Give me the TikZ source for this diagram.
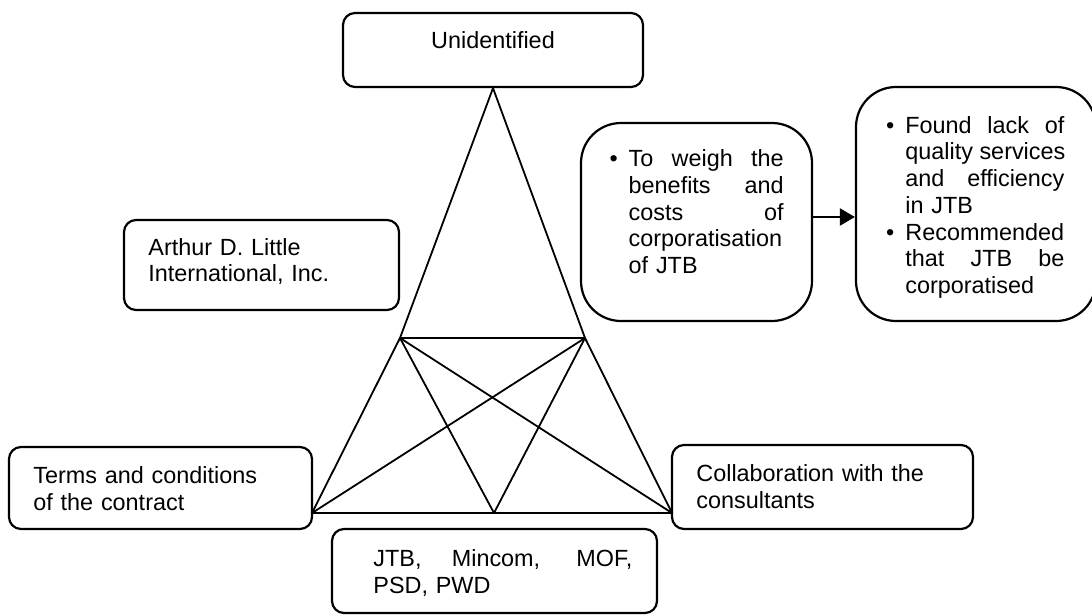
\documentclass[tikz,border=0pt]{standalone}
\usepackage{fontspec}
\setmainfont{Liberation Sans}
\usetikzlibrary{arrows.meta}

\tikzset{
  box/.style={draw, line width=1.1pt, rounded corners=6pt, inner sep=0pt},
  bigbox/.style={box, rounded corners=20pt},
  txt/.style={inner sep=0pt, align=left, anchor=base west,
    font=\fontsize{11.7}{13.35}\selectfont},
  edge/.style={line width=0.9pt},
  arr/.style={line width=1.1pt, -{Triangle[length=7.5pt,width=8.5pt]}}
}
% justified line (spaces stretch evenly) and hanging bullet
\newcommand{\jline}[1]{\makebox[\hsize][s]{\spaceskip=.278em plus 1fil\relax #1}}
\newcommand{\bul}{\leavevmode\llap{\textbullet\hspace{5.5pt}}}

\begin{document}
\begin{tikzpicture}[x=0.5pt,y=-0.5pt]
\useasboundingbox (0,0) rectangle (1092,615);
\clip (0,0) rectangle (1092,615);

% boxes
\node[box, minimum width=150pt, minimum height=37pt] (top) at (493,50) {};
\node[box, minimum width=137.5pt, minimum height=45pt] (arthur) at (261.5,265) {};
\node[box, minimum width=151.5pt, minimum height=41pt] (terms) at (160.5,488) {};
\node[box, minimum width=162.5pt, minimum height=42pt] (parties) at (494.5,571) {};
\node[box, minimum width=150.5pt, minimum height=42pt] (collab) at (822.5,487) {};
\node[bigbox, minimum width=115.5pt, minimum height=99pt] (weigh) at (696.5,222) {};
\node[bigbox, minimum width=120pt, minimum height=117pt] (found) at (976,204) {};

% texts
\node[txt, anchor=base] (toptext) at (493,49) {Unidentified};
\node[txt, text width=120pt] (arthurtext) at (148,255) {Arthur D. Little\\International, Inc.};
\node[txt, text width=130pt] (termstext) at (33,483.3) {Terms and conditions\\of the contract};
\node[txt, text width=129.5pt] (partiestext) at (373,566.7)
  {\jline{JTB, Mincom, MOF,}\\PSD, PWD};
\node[txt, text width=130pt] (collabtext) at (696,481.7) {Collaboration with the\\consultants};
\node[txt, text width=77.5pt] (weightext) at (628.3,166.7)
  {\bul\jline{To weigh the}\\\jline{benefits and}\\\jline{costs of}\\corporatisation\\of JTB};
\node[txt, text width=79.5pt] (foundtext) at (905,133.3)
  {\bul\jline{Found lack of}\\\jline{quality services}\\\jline{and efficiency}\\in JTB\\%
   \bul\mbox{Recommended}\\\jline{that JTB be}\\corporatised};

% triangle frame
\coordinate (ul) at (400,338);
\coordinate (ur) at (585,338);
\coordinate (bl) at (312,513);
\coordinate (bm) at (494,513);
\coordinate (br) at (672,513);

\draw[edge] (top.south) -- (ul);
\draw[edge] (top.south) -- (ur);
\draw[edge] (ul) -- (ur);
\draw[edge] (bl) -- (br);
\foreach \a in {ul,ur}
  \foreach \b in {bl,bm,br}
    \draw[edge] (\a) -- (\b);

% arrow to findings
\draw[arr] ([yshift=2.5pt]weigh.east) -- ([yshift=2.5pt]weigh.east -| found.west);
\end{tikzpicture}
\end{document}
